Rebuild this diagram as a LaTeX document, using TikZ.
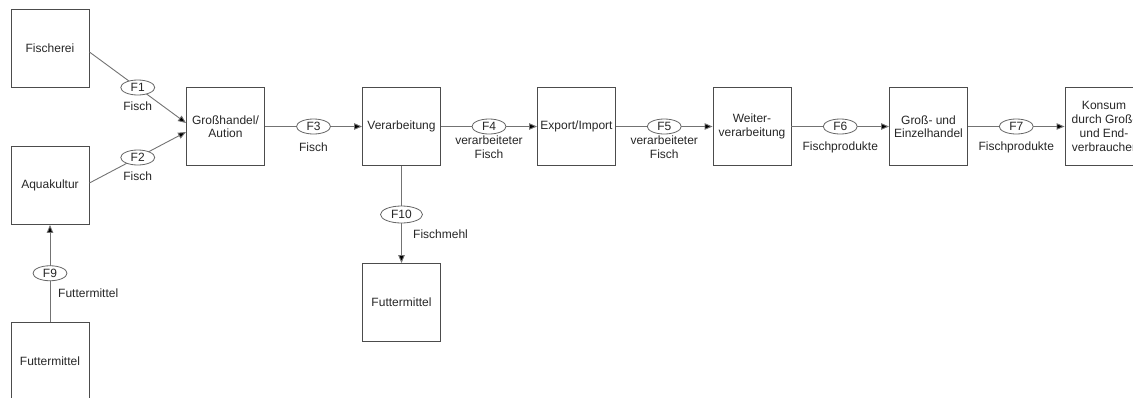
\documentclass[tikz,border=0pt]{standalone}
\usepackage{fontspec}
\setmainfont{Liberation Sans}
\usetikzlibrary{arrows.meta,shapes.geometric}
\begin{document}
\begin{tikzpicture}[x=1pt,y=-1pt,
  font=\fontsize{12}{13.5}\selectfont,
  box/.style={draw=black!70,line width=0.9pt,minimum width=78pt,minimum height=78pt,inner sep=0pt,align=center,text=black!85},
  flow/.style={draw=black!55,line width=0.9pt,-{Triangle[length=8pt,width=6.5pt,fill=black]}},
  fl/.style={ellipse,draw=black!60,line width=0.8pt,fill=white,minimum width=34pt,minimum height=15pt,inner sep=0pt,text=black!85},
  lab/.style={align=center,text=black!85,inner sep=0pt}]
\useasboundingbox (0,0) rectangle (1133,397);
\clip (0,0) rectangle (1133,397);
\node[box] (fisch) at (50,48) {Fischerei};
\node[box] (aqua) at (50,185.5) {Aquakultur};
\node[box] (gross) at (225.5,126.5) {Großhandel/\\Aution};
\node[box] (verarb) at (401.5,126.5) {Verarbeitung};
\node[box] (export) at (576.5,126.5) {Export/Import};
\node[box] (weiter) at (752,126.5) {Weiter-\\verarbeitung};
\node[box] (handel) at (928.5,126.5) {Groß- und\\Einzelhandel};
\node[box,font=\fontsize{12}{14.2}\selectfont] (konsum) at (1104,126.5) {Konsum\\durch Groß-\\und End-\\verbraucher};
\node[box] (futter1) at (50,361) {Futtermittel};
\node[box] (futter2) at (401.5,302.5) {Futtermittel};

\draw[flow] ([yshift=-4pt]fisch.east) -- node[fl] (f1) {F1} node[lab,yshift=-19pt] (l1) {Fisch} ([yshift=3.5pt]gross.west);
\draw[flow] ([yshift=2.5pt]aqua.east) -- node[fl] (f2) {F2} node[lab,yshift=-19pt] (l2) {Fisch} ([yshift=-5.5pt]gross.west);
\draw[flow] (gross.east) -- node[fl] (f3) {F3} node[lab,yshift=-21pt] (l3) {Fisch} (verarb.west);
\draw[flow] (verarb.east) -- node[fl] (f4) {F4} node[lab,yshift=-20.5pt] (l4) {verarbeiteter\\Fisch} (export.west);
\draw[flow] (export.east) -- node[fl] (f5) {F5} node[lab,yshift=-20.5pt] (l5) {verarbeiteter\\Fisch} (weiter.west);
\draw[flow] (weiter.east) -- node[fl] (f6) {F6} node[lab,yshift=-21pt] (l6) {Fischprodukte} (handel.west);
\draw[flow] (handel.east) -- node[fl] (f7) {F7} node[lab,yshift=-21pt] (l7) {Fischprodukte} (konsum.west);
\draw[flow] (futter1.north) -- node[fl] (f9) {F9} (aqua.south);
\node[lab,anchor=west] (l9) at (58,293) {Futtermittel};
\draw[flow] (verarb.south) -- node[fl,minimum width=42pt,minimum height=17pt] (f10) {F10} (futter2.north);
\node[lab,anchor=west] (l10) at (413,234) {Fischmehl};
\end{tikzpicture}
\end{document}
